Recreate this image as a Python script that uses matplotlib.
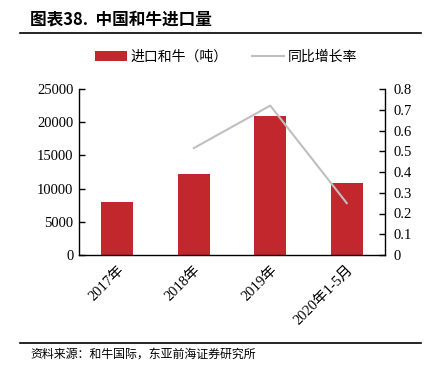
import matplotlib
matplotlib.use("Agg")
import matplotlib.pyplot as plt
from matplotlib.lines import Line2D
from matplotlib.patches import Patch

categories = ["2017年", "2018年", "2019年", "2020年1-5月"]
imports = [8000, 12200, 20900, 10850]
growth_x = ["2018年", "2019年", "2020年1-5月"]
growth = [0.515, 0.72, 0.25]
left_ticks = [0, 5000, 10000, 15000, 20000, 25000]
right_ticks = [0, 0.1, 0.2, 0.3, 0.4, 0.5, 0.6, 0.7, 0.8]

serif = ["Liberation Serif", "Noto Sans CJK SC"]
cjk = ["Noto Sans CJK SC", "DejaVu Sans"]
bar_color = "#C1272D"
line_color = "#BFBFBF"

fig = plt.figure(figsize=(4.36, 3.73), dpi=100)
ax = fig.add_axes([79/436, 1-255/373, (385-79)/436, (255-89)/373])
ax2 = ax.twinx()

x = list(range(len(categories)))
ax.bar(x, imports, width=0.42, color=bar_color, zorder=2)
gx = [categories.index(c) for c in growth_x]
ax2.plot(gx, growth, color=line_color, lw=1.5, zorder=3)

ax.set_xlim(-0.5, 3.5)
ax.set_ylim(0, 25000)
ax2.set_ylim(0, 0.8)
ax.set_yticks(left_ticks)
ax.set_yticklabels([str(v) for v in left_ticks], family=serif, fontsize=10.5)
ax2.set_yticks(right_ticks)
ax2.set_yticklabels([("%g" % v) for v in right_ticks], family=serif, fontsize=10.5)
ax.set_xticks(x)
ax.set_xticklabels(categories, family=serif, fontsize=10.5, rotation=45,
                   ha="right", rotation_mode="anchor")
ax.tick_params(axis="x", length=0, pad=6)
ax.tick_params(axis="y", direction="in", length=4, width=1, pad=4)
ax2.tick_params(axis="y", direction="in", length=4, width=1, pad=6)

for a in (ax, ax2):
    a.spines["top"].set_visible(False)
    for s in ("left", "right", "bottom"):
        a.spines[s].set_linewidth(1)
        a.spines[s].set_color("black")
ax.spines["right"].set_visible(False)
ax2.spines["left"].set_visible(False)
ax2.spines["bottom"].set_visible(False)

handles = [Patch(facecolor=bar_color, edgecolor="none"),
           Line2D([0], [0], color=line_color, lw=1.5)]
fig.legend(handles, ["进口和牛（吨）", "同比增长率"], loc="center",
           bbox_to_anchor=(226/436, 1-57/373), ncol=2, frameon=False,
           prop={"family": cjk, "size": 10}, handlelength=2.3,
           handleheight=0.7, columnspacing=1.8, handletextpad=0.25)

fig.text(30/436, 1-20/373, "图表38.  中国和牛进口量", family=cjk,
         fontsize=12, fontweight="bold", va="center", ha="left")
fig.add_artist(Line2D([20/436, 421/436], [1-33/373, 1-33/373],
                      color="black", lw=1.2, transform=fig.transFigure))
fig.add_artist(Line2D([20/436, 421/436], [1-343/373, 1-343/373],
                      color="black", lw=1.2, transform=fig.transFigure))
fig.text(30/436, 1-354/373, "资料来源：和牛国际，东亚前海证券研究所", family=cjk,
         fontsize=8.6, va="center", ha="left")

fig.savefig("out.png", dpi=100)
